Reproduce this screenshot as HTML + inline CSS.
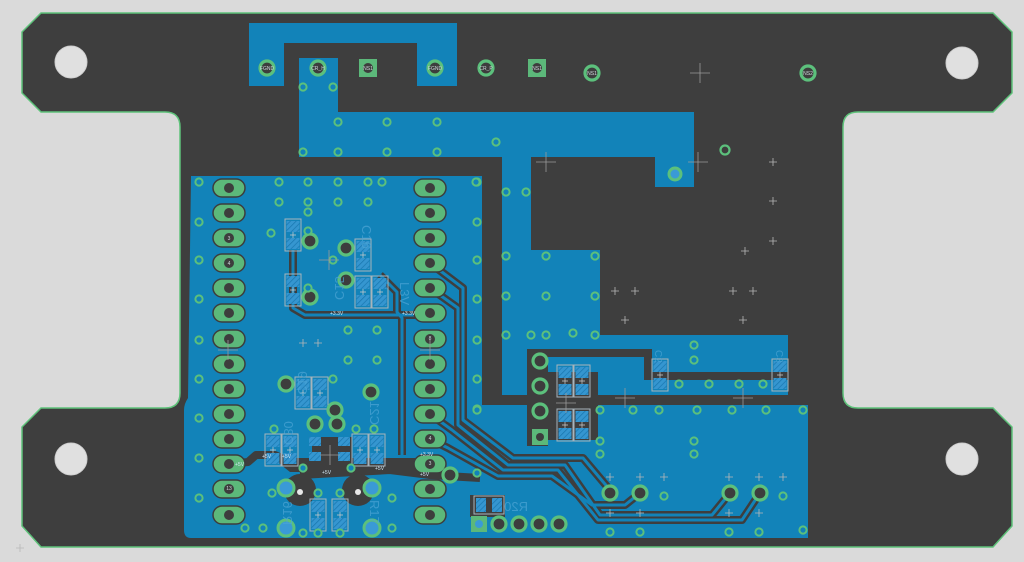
<!DOCTYPE html>
<html><head><meta charset="utf-8"><style>
html,body{margin:0;padding:0;background:#dadada;}
svg{display:block;font-family:"Liberation Sans",sans-serif;}
</style></head><body>
<svg width="1024" height="562" viewBox="0 0 1024 562" xmlns="http://www.w3.org/2000/svg">
<defs>
<pattern id="h" width="4" height="4" patternUnits="userSpaceOnUse" patternTransform="rotate(45)">
<rect width="4" height="4" fill="#3596d0"/><line x1="0" y1="0" x2="0" y2="4" stroke="#1a78b0" stroke-width="1.5"/></pattern>
<g id="via"><circle r="3.6" fill="#1283b9" stroke="#5cc07c" stroke-width="2"/></g>
<g id="ring"><circle r="7" fill="#3d3d3d" stroke="#5cc07c" stroke-width="3.2"/></g>
<g id="cross"><path d="M-10 0H10M0 -10V10" stroke="#9a9a9a" stroke-width="0.8"/></g>
<g id="sc"><path d="M-4 0H4M0 -4V4" stroke="#b8b8b8" stroke-width="0.8"/></g>
<g id="hp"><rect x="-16" y="-9" width="32" height="18" rx="9" fill="#5cb87a" stroke="#3d3d3d" stroke-width="1.5"/><circle r="5" fill="#3d3d3d"/></g>
<g id="cap"><rect x="-8" y="-16" width="16" height="32" fill="none" stroke="#a8b4bc" stroke-width="1"/><rect x="-6.5" y="-14" width="13" height="11" fill="url(#h)"/><rect x="-6.5" y="3" width="13" height="11" fill="url(#h)"/><path d="M-3 0H3M0 -3V3" stroke="#ccc" stroke-width="0.7"/></g>
</defs>
<rect width="1024" height="562" fill="#dadada"/>
<path d="M41 13H993L1012 32V93L993 112H858Q843 112 843 127V393Q843 408 858 408H993L1012 427V526L993 547H41L22 526V427L41 408H165Q180 408 180 393V127Q180 112 165 112H41L22 93V32Z" fill="#3e3e3e" stroke="#5ec27a" stroke-width="1.5"/>
<g fill="#e0e0e0" stroke="#cfcfcf" stroke-width="1">
<circle cx="71" cy="62" r="16"/><circle cx="962" cy="63" r="16"/><circle cx="71" cy="459" r="16"/><circle cx="962" cy="459" r="16"/></g>
<g fill="#1283b9">
<path d="M249 23H457V86H417V43H284V86H249Z"/>
<path d="M299 58H338V112H694V187H655V157H531V250H600V335H788V395H502V157H299Z"/>
<path d="M191 176H482V405H808V538H191Q184 538 184 530V410Q184 404 188 398Z"/>
</g>
<g fill="#3e3e3e">
<rect x="482" y="176" width="20" height="229"/>
<rect x="482" y="395" width="326" height="10"/>
<path d="M527 349H652V372H788V380H644V357H527Z"/>
<rect x="527" y="349" width="21" height="97"/>
<rect x="548" y="372" width="50" height="68"/>
</g>
<g fill="none" stroke-linejoin="round">
<g stroke="#3e3e3e" stroke-width="8">
<polyline points="430,263 463,288 463,420 513,458 583,458 610,490"/>
<polyline points="430,288 458,308 458,425 508,465 565,465 600,515 712,515 730,493"/>
<polyline points="430,414 452,430 503,470 558,470 598,520 742,520 760,493"/>
<polyline points="430,439 448,448 498,476 552,476 592,505 625,505 640,493"/>
<polyline points="293,250 293,308 305,315 430,315"/>
<polyline points="380,275 397,292 397,312 402,318 402,455"/>
<polyline points="229,464 248,462 256,455 275,455 290,462 430,462"/>
<polyline points="300,475 390,470 430,475 480,478"/>
</g>
<g stroke="#1283b9" stroke-width="3">
<polyline points="430,263 463,288 463,420 513,458 583,458 610,490"/>
<polyline points="430,288 458,308 458,425 508,465 565,465 600,515 712,515 730,493"/>
<polyline points="430,414 452,430 503,470 558,470 598,520 742,520 760,493"/>
<polyline points="430,439 448,448 498,476 552,476 592,505 625,505 640,493"/>
<polyline points="293,250 293,308 305,315 430,315"/>
<polyline points="380,275 397,292 397,312 402,318 402,455"/>
</g>
</g>
<g fill="#3e3e3e">
<path d="M275 460H440L450 472H290Z"/>
<circle cx="300" cy="490" r="16"/><circle cx="358" cy="490" r="16"/>
<rect x="312" y="437" width="40" height="26"/>
<rect x="470" y="495" width="35" height="22"/>
</g>
<g>
<use href="#hp" x="229" y="188"/><use href="#hp" x="229" y="213"/><use href="#hp" x="229" y="238"/><use href="#hp" x="229" y="263"/><use href="#hp" x="229" y="288"/><use href="#hp" x="229" y="313"/><use href="#hp" x="229" y="339"/><use href="#hp" x="229" y="364"/><use href="#hp" x="229" y="389"/><use href="#hp" x="229" y="414"/><use href="#hp" x="229" y="439"/><use href="#hp" x="229" y="464"/><use href="#hp" x="229" y="489"/><use href="#hp" x="229" y="515"/>
<use href="#hp" x="430" y="188"/><use href="#hp" x="430" y="213"/><use href="#hp" x="430" y="238"/><use href="#hp" x="430" y="263"/><use href="#hp" x="430" y="288"/><use href="#hp" x="430" y="313"/><use href="#hp" x="430" y="339"/><use href="#hp" x="430" y="364"/><use href="#hp" x="430" y="389"/><use href="#hp" x="430" y="414"/><use href="#hp" x="430" y="439"/><use href="#hp" x="430" y="464"/><use href="#hp" x="430" y="489"/><use href="#hp" x="430" y="515"/>
</g>
<g font-size="5" fill="#cfd8dc" text-anchor="middle">
<text x="229" y="240">3</text><text x="229" y="265">4</text><text x="229" y="490">13</text><text x="430" y="340">8</text><text x="430" y="440">4</text><text x="430" y="465">3</text>
</g>
<g>
<use href="#cap" x="293" y="235"/><use href="#cap" x="293" y="290"/>
<use href="#cap" x="363" y="255"/><use href="#cap" x="363" y="292"/><use href="#cap" x="380" y="292"/>
<use href="#cap" x="303" y="393"/><use href="#cap" x="320" y="393"/>
<use href="#cap" x="273" y="450"/><use href="#cap" x="290" y="450"/><use href="#cap" x="360" y="450"/><use href="#cap" x="377" y="450"/>
<use href="#cap" x="318" y="515"/><use href="#cap" x="340" y="515"/>
<use href="#cap" x="565" y="381"/><use href="#cap" x="582" y="381"/><use href="#cap" x="565" y="425"/><use href="#cap" x="582" y="425"/>
<use href="#cap" x="660" y="375"/><use href="#cap" x="780" y="375"/>
</g>
<g fill="url(#h)"><rect x="309" y="437" width="12" height="9"/><rect x="309" y="452" width="12" height="9"/><rect x="338" y="437" width="12" height="9"/><rect x="338" y="452" width="12" height="9"/>
<rect x="476" y="498" width="10" height="14"/><rect x="492" y="498" width="10" height="14"/></g>
<rect x="474" y="496" width="30" height="18" fill="none" stroke="#a8b4bc" stroke-width="1"/>
<g>
<circle cx="286" cy="488" r="8" fill="#3a9ad6" stroke="#5cc07c" stroke-width="3"/><circle cx="372" cy="488" r="8" fill="#3a9ad6" stroke="#5cc07c" stroke-width="3"/>
<circle cx="286" cy="528" r="8" fill="#3a9ad6" stroke="#5cc07c" stroke-width="3"/><circle cx="372" cy="528" r="8" fill="#3a9ad6" stroke="#5cc07c" stroke-width="3"/>
<circle cx="300" cy="492" r="3" fill="#e8e8e8"/><circle cx="358" cy="492" r="3" fill="#e8e8e8"/>
</g>
<g>
<use href="#ring" x="267" y="68"/><use href="#ring" x="318" y="68"/><use href="#ring" x="435" y="68"/><use href="#ring" x="486" y="68"/>
<use href="#ring" x="592" y="73"/><use href="#ring" x="808" y="73"/>
<rect x="359" y="59" width="18" height="18" fill="#5cb87a"/><circle cx="368" cy="68" r="5" fill="#3d3d3d"/>
<rect x="528" y="59" width="18" height="18" fill="#5cb87a"/><circle cx="537" cy="68" r="5" fill="#3d3d3d"/>
<circle cx="675" cy="174" r="6" fill="#3a9ad6" stroke="#5cc07c" stroke-width="3"/>
<circle cx="725" cy="150" r="4.5" fill="#3d3d3d" stroke="#5cc07c" stroke-width="2.2"/>
</g>
<g font-size="5" fill="#cfd8dc" text-anchor="middle">
<text x="267" y="70">FGND</text><text x="318" y="70">CR_H</text><text x="368" y="70">NS1</text><text x="435" y="70">FGND</text><text x="486" y="70">CR_P</text><text x="537" y="70">NS1</text><text x="592" y="75">NS1</text><text x="808" y="75">NS2</text>
</g>
<g>
<use href="#ring" x="540" y="361"/><use href="#ring" x="540" y="386"/><use href="#ring" x="540" y="411"/>
<rect x="532" y="429" width="16" height="16" fill="#5cb87a"/><circle cx="540" cy="437" r="4" fill="#3d3d3d"/>
<rect x="471" y="516" width="16" height="16" fill="#5cb87a"/><circle cx="479" cy="524" r="4" fill="#3a9ad6"/>
<use href="#ring" x="499" y="524"/><use href="#ring" x="519" y="524"/><use href="#ring" x="539" y="524"/><use href="#ring" x="559" y="524"/>
<use href="#ring" x="610" y="493"/><use href="#ring" x="640" y="493"/><use href="#ring" x="730" y="493"/><use href="#ring" x="760" y="493"/>
<use href="#ring" x="286" y="384"/><use href="#ring" x="310" y="241"/><use href="#ring" x="310" y="297"/><use href="#ring" x="346" y="248"/><use href="#ring" x="346" y="280"/><use href="#ring" x="371" y="392"/><use href="#ring" x="335" y="410"/><use href="#ring" x="315" y="424"/><use href="#ring" x="337" y="424"/><use href="#ring" x="450" y="475"/>
</g>
<g>
<use href="#via" x="199" y="182"/><use href="#via" x="279" y="182"/><use href="#via" x="308" y="182"/><use href="#via" x="338" y="182"/><use href="#via" x="368" y="182"/><use href="#via" x="382" y="182"/><use href="#via" x="477" y="182"/>
<use href="#via" x="279" y="202"/><use href="#via" x="308" y="202"/><use href="#via" x="338" y="202"/><use href="#via" x="368" y="202"/><use href="#via" x="308" y="212"/>
<use href="#via" x="199" y="222"/><use href="#via" x="477" y="222"/><use href="#via" x="271" y="233"/><use href="#via" x="308" y="231"/><use href="#via" x="333" y="260"/>
<use href="#via" x="199" y="260"/><use href="#via" x="477" y="260"/><use href="#via" x="308" y="288"/><use href="#via" x="199" y="299"/><use href="#via" x="477" y="299"/>
<use href="#via" x="348" y="330"/><use href="#via" x="377" y="330"/><use href="#via" x="199" y="340"/><use href="#via" x="477" y="340"/><use href="#via" x="348" y="360"/><use href="#via" x="377" y="360"/>
<use href="#via" x="199" y="379"/><use href="#via" x="477" y="379"/><use href="#via" x="333" y="379"/><use href="#via" x="199" y="418"/><use href="#via" x="477" y="409"/>
<use href="#via" x="274" y="429"/><use href="#via" x="356" y="429"/><use href="#via" x="374" y="429"/><use href="#via" x="199" y="458"/><use href="#via" x="303" y="468"/><use href="#via" x="351" y="468"/><use href="#via" x="477" y="473"/>
<use href="#via" x="272" y="493"/><use href="#via" x="318" y="493"/><use href="#via" x="340" y="493"/><use href="#via" x="392" y="498"/><use href="#via" x="199" y="498"/>
<use href="#via" x="245" y="528"/><use href="#via" x="263" y="528"/><use href="#via" x="303" y="533"/><use href="#via" x="318" y="533"/><use href="#via" x="340" y="533"/><use href="#via" x="392" y="528"/>
<use href="#via" x="506" y="192"/><use href="#via" x="526" y="192"/><use href="#via" x="506" y="256"/><use href="#via" x="546" y="256"/><use href="#via" x="595" y="256"/>
<use href="#via" x="506" y="296"/><use href="#via" x="546" y="296"/><use href="#via" x="595" y="296"/><use href="#via" x="506" y="335"/><use href="#via" x="531" y="335"/><use href="#via" x="546" y="335"/><use href="#via" x="573" y="333"/><use href="#via" x="595" y="335"/>
<use href="#via" x="694" y="345"/><use href="#via" x="694" y="360"/><use href="#via" x="679" y="384"/><use href="#via" x="709" y="384"/><use href="#via" x="739" y="384"/><use href="#via" x="763" y="384"/>
<use href="#via" x="477" y="410"/><use href="#via" x="600" y="410"/><use href="#via" x="633" y="410"/><use href="#via" x="659" y="410"/><use href="#via" x="697" y="410"/><use href="#via" x="732" y="410"/><use href="#via" x="766" y="410"/><use href="#via" x="803" y="410"/>
<use href="#via" x="600" y="441"/><use href="#via" x="694" y="441"/><use href="#via" x="600" y="454"/><use href="#via" x="694" y="454"/><use href="#via" x="664" y="496"/><use href="#via" x="783" y="496"/>
<use href="#via" x="610" y="532"/><use href="#via" x="640" y="532"/><use href="#via" x="729" y="532"/><use href="#via" x="759" y="532"/><use href="#via" x="803" y="530"/>
<use href="#via" x="303" y="87"/><use href="#via" x="333" y="87"/><use href="#via" x="338" y="122"/><use href="#via" x="387" y="122"/><use href="#via" x="437" y="122"/><use href="#via" x="496" y="142"/>
<use href="#via" x="303" y="152"/><use href="#via" x="338" y="152"/><use href="#via" x="387" y="152"/><use href="#via" x="437" y="152"/><use href="#via" x="476" y="182"/>
</g>
<g>
<use href="#cross" x="700" y="73"/><use href="#cross" x="546" y="162"/><use href="#cross" x="698" y="162"/><use href="#cross" x="329" y="260"/><use href="#cross" x="228" y="350"/><use href="#cross" x="430" y="350"/><use href="#cross" x="625" y="398"/><use href="#cross" x="743" y="398"/><use href="#cross" x="566" y="403"/><use href="#cross" x="330" y="455"/>
<use href="#sc" x="773" y="162"/><use href="#sc" x="773" y="201"/><use href="#sc" x="773" y="241"/><use href="#sc" x="745" y="251"/><use href="#sc" x="615" y="291"/><use href="#sc" x="635" y="291"/><use href="#sc" x="625" y="320"/><use href="#sc" x="733" y="291"/><use href="#sc" x="753" y="291"/><use href="#sc" x="743" y="320"/>
<use href="#sc" x="610" y="477"/><use href="#sc" x="640" y="477"/><use href="#sc" x="664" y="477"/><use href="#sc" x="729" y="477"/><use href="#sc" x="759" y="477"/><use href="#sc" x="783" y="477"/><use href="#sc" x="610" y="513"/><use href="#sc" x="640" y="513"/><use href="#sc" x="729" y="513"/><use href="#sc" x="759" y="513"/>
<use href="#sc" x="303" y="343"/><use href="#sc" x="318" y="343"/><use href="#sc" x="20" y="548"/>
</g>
<g font-size="13" fill="#4fa6d6" opacity="0.7">
<text transform="translate(335,300) rotate(-90) scale(1,-1)">C15</text>
<text transform="translate(362,225) rotate(90)">C16</text>
<text transform="translate(400,282) rotate(90)">L3V</text>
<text transform="translate(298,395) rotate(-90) scale(1,-1)">C19</text>
<text transform="translate(284,445) rotate(-90) scale(1,-1)">C30</text>
<text transform="translate(370,425) rotate(-90) scale(1,-1)">C21</text>
<text transform="translate(283,525) rotate(-90) scale(1,-1)">R16</text>
<text transform="translate(370,500) rotate(90)">R17</text>
<text transform="translate(528,511) scale(-1,1)">R20</text>
<text transform="translate(655,350) rotate(90)" font-size="10">C2</text>
<text transform="translate(776,350) rotate(90)" font-size="10">C3</text>
</g>
<g font-size="5" fill="#d0e4f0">
<text x="235" y="466">+5V</text><text x="262" y="458">+5V</text><text x="282" y="458">+5V</text><text x="322" y="474">+5V</text><text x="375" y="470">+5V</text><text x="420" y="456">+3.3V</text><text x="420" y="476">+5V</text><text x="330" y="315">+3.3V</text><text x="402" y="315">+3.3V</text>
</g>
</svg>
</body></html>
